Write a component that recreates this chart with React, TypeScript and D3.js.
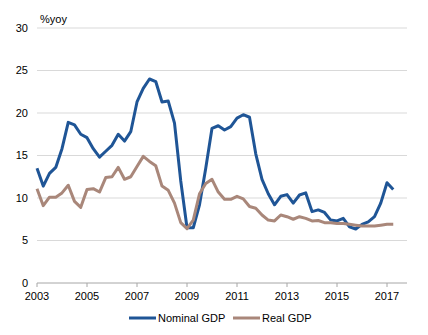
import React from "react";
import * as d3 from "d3";

const startYear = 2003;
const nominalGDP = [
  13.5, 11.4, 12.9, 13.6, 15.8, 18.9, 18.6, 17.5, 17.1, 15.8, 14.8, 15.5,
  16.2, 17.5, 16.7, 17.8, 21.3, 22.9, 24.0, 23.7, 21.3, 21.4, 18.8, 12.0,
  6.5, 6.5, 9.2, 13.5, 18.2, 18.5, 18.0, 18.4, 19.4, 19.8, 19.5, 15.2,
  12.2, 10.5, 9.2, 10.2, 10.4, 9.4, 10.35, 10.6, 8.4, 8.6, 8.3, 7.4,
  7.3, 7.6, 6.6, 6.35, 6.9, 7.2, 7.8, 9.4, 11.8, 11.0,
];
const realGDP = [
  11.1, 9.1, 10.1, 10.1, 10.6, 11.5, 9.6, 8.9, 11.0, 11.1, 10.7, 12.4,
  12.5, 13.6, 12.2, 12.5, 13.7, 14.9, 14.3, 13.8, 11.4, 10.9, 9.4, 7.1,
  6.4, 7.4, 10.5, 11.7, 12.2, 10.7, 9.85, 9.85, 10.2, 9.9, 9.0, 8.8,
  8.0, 7.4, 7.3, 8.0, 7.8, 7.5, 7.8, 7.6, 7.3, 7.35, 7.1, 7.1,
  7.0, 7.0, 6.9, 6.8, 6.7, 6.7, 6.7, 6.8, 6.9, 6.9,
];
const yTicks = [0, 5, 10, 15, 20, 25, 30];
const xTicks = [2003, 2005, 2007, 2009, 2011, 2013, 2015, 2017];
const seriesNames = ["Nominal GDP", "Real GDP"];
const colors = ["#1f5596", "#a9877a"];

export default function App() {
  const W = 428, H = 335;
  const x = d3.scaleLinear().domain([2003, 2017.8]).range([37, 407]);
  const y = d3.scaleLinear().domain([0, 30]).range([283, 28]);
  const line = d3
    .line<number>()
    .x((_, i) => x(startYear + i / 4))
    .y((d) => y(d))
    .curve(d3.curveLinear);
  const font = "Liberation Sans, Arial, sans-serif";
  const series = [nominalGDP, realGDP];
  return (
    <svg
      width={W}
      height={H}
      style={{ position: "absolute", left: 0, top: 0, background: "#fff" }}
      fontFamily={font}
    >
      {yTicks.map((t) => (
        <g key={t}>
          {t > 0 && (
            <line x1={x(2003)} x2={407} y1={y(t)} y2={y(t)} stroke="#d9d9d9" strokeWidth={1} />
          )}
          <text x={28} y={y(t)} dy="0.35em" textAnchor="end" fontSize={11} fill="#000">
            {t}
          </text>
        </g>
      ))}
      <text x={40} y={23} fontSize={11} fill="#000">%yoy</text>
      <line x1={x(2003)} x2={407} y1={y(0)} y2={y(0)} stroke="#a6a6a6" strokeWidth={1} />
      {xTicks.map((t) => (
        <g key={t}>
          <line x1={x(t)} x2={x(t)} y1={y(0)} y2={y(0) + 4} stroke="#a6a6a6" />
          <text x={x(t)} y={300} textAnchor="middle" fontSize={11} fill="#000">
            {t}
          </text>
        </g>
      ))}
      {series.map((s, i) => (
        <path
          key={i}
          d={line(s) || ""}
          fill="none"
          stroke={colors[i]}
          strokeWidth={3}
          strokeLinejoin="round"
        />
      ))}
      {seriesNames.map((n, i) => {
        const lx = i === 0 ? 129 : 233;
        return (
          <g key={n}>
            <line x1={lx} x2={lx + 27} y1={318} y2={318} stroke={colors[i]} strokeWidth={3} />
            <text x={lx + 29} y={318} dy="0.35em" fontSize={11} fill="#000">
              {n}
            </text>
          </g>
        );
      })}
    </svg>
  );
}
